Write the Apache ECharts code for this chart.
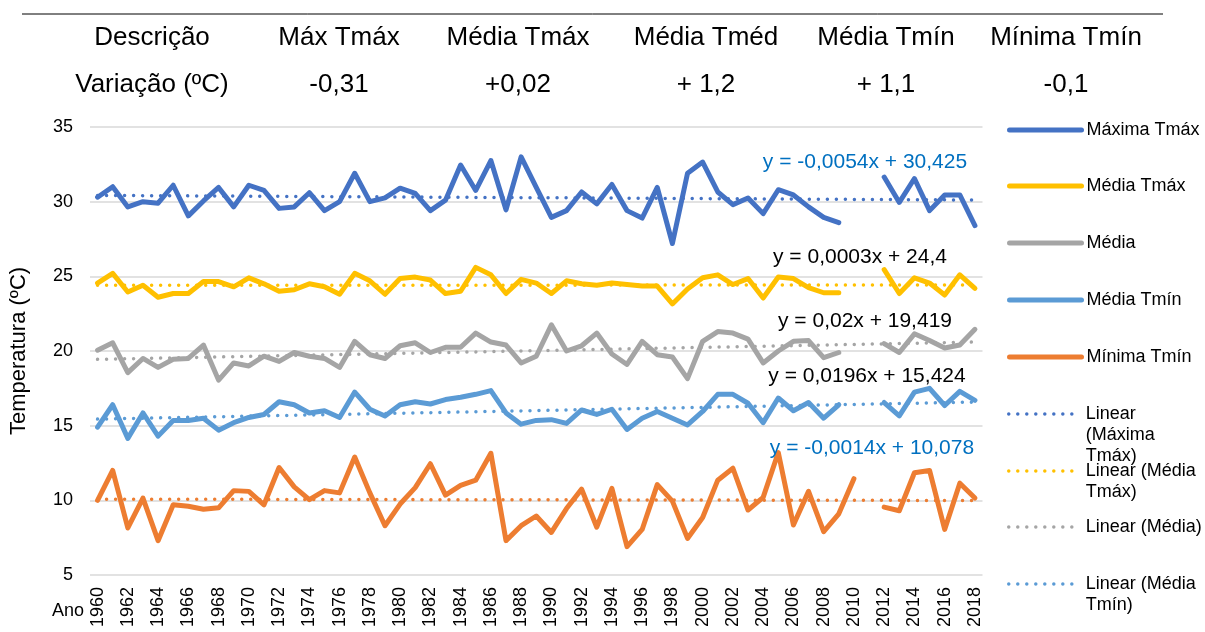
<!DOCTYPE html>
<html>
<head>
<meta charset="utf-8">
<script src="https://cdn.jsdelivr.net/npm/echarts@6/dist/echarts.min.js"></script>
<style>
html, body { margin: 0; padding: 0; background: #fff; }
#myChart { width: 1205px; height: 632px; }
</style>
</head>
<body>
<div id="myChart"></div>
<script>
// anos (eixo x)
const years = ['1960','1961','1962','1963','1964','1965','1966','1967','1968','1969',
  '1970','1971','1972','1973','1974','1975','1976','1977','1978','1979',
  '1980','1981','1982','1983','1984','1985','1986','1987','1988','1989',
  '1990','1991','1992','1993','1994','1995','1996','1997','1998','1999',
  '2000','2001','2002','2003','2004','2005','2006','2007','2008','2009',
  '2010','2011','2012','2013','2014','2015','2016','2017','2018']

const maxTmax = [30.3,31.0,29.65,30.0,29.9,31.1,29.05,30.05,30.95,29.65,
  31.1,30.75,29.55,29.65,30.6,29.4,30.0,31.9,30.0,30.25,
  30.9,30.55,29.4,30.1,32.45,30.75,32.75,29.45,33.0,30.95,
  28.95,29.4,30.65,29.85,31.15,29.4,28.9,30.95,27.2,31.9,
  32.65,30.65,29.8,30.25,29.2,30.8,30.45,29.65,28.95,28.6,
  null,null,31.65,29.95,31.55,29.4,30.45,30.45,28.4]

const mediaTmax = [24.55,25.2,23.95,24.4,23.6,23.85,23.85,24.65,24.65,24.3,
  24.9,24.5,24.0,24.1,24.5,24.3,23.8,25.2,24.7,23.8,
  24.85,24.95,24.75,23.85,24.0,25.6,25.1,23.85,24.8,24.55,
  23.85,24.7,24.5,24.4,24.55,24.45,24.35,24.35,23.15,24.15,
  24.9,25.1,24.45,24.85,23.55,24.95,24.85,24.25,23.9,23.9,
  null,null,25.45,23.85,24.9,24.55,23.75,25.1,24.2]

const media = [20.05,20.55,18.55,19.5,18.9,19.45,19.5,20.4,18.05,19.2,
  19.0,19.65,19.3,19.9,19.65,19.5,18.9,20.65,19.75,19.5,
  20.35,20.55,19.9,20.25,20.25,21.2,20.6,20.4,19.2,19.65,
  21.75,20.0,20.35,21.2,19.8,19.1,20.65,19.75,19.6,18.15,
  20.65,21.3,21.2,20.8,19.2,20.0,20.65,20.7,19.55,19.9,
  null,null,20.5,19.9,21.15,20.7,20.2,20.4,21.45]

const mediaTmin = [14.9,16.4,14.15,15.85,14.3,15.35,15.35,15.5,14.7,15.2,
  15.55,15.75,16.6,16.4,15.85,16.0,15.55,17.25,16.1,15.65,
  16.4,16.6,16.45,16.75,16.9,17.1,17.35,15.85,15.1,15.35,
  15.4,15.15,16.05,15.75,16.1,14.75,15.5,15.95,15.5,15.05,
  15.95,17.1,17.1,16.5,15.2,16.85,16.0,16.55,15.5,16.4,
  null,null,16.55,15.65,17.25,17.5,16.35,17.3,16.7]

const minTmin = [10.0,12.0,8.15,10.15,7.3,9.7,9.6,9.4,9.5,10.65,
  10.6,9.7,12.2,10.9,10.05,10.65,10.5,12.9,10.5,8.3,
  9.75,10.85,12.45,10.35,11.0,11.35,13.15,7.3,8.3,8.95,
  7.85,9.45,10.75,8.2,10.8,6.9,8.05,11.05,9.95,7.45,
  8.85,11.35,12.15,9.35,10.2,13.2,8.35,10.6,7.9,9.1,
  11.45,null,9.55,9.3,11.85,12.0,8.05,11.15,10.15]

// linhas de tendência: valor no primeiro e no último ano
const trendStart = [30.42, 24.40, 19.44, 15.44, 10.08]
const trendEnd = [30.11, 24.42, 20.60, 16.58, 9.99]
const trendEq = ['y = -0,0054x + 30,425', 'y = 0,0003x + 24,4', 'y = 0,02x + 19,419', 'y = 0,0196x + 15,424', 'y = -0,0014x + 10,078']

// tabela do topo
const headRow = ['Descrição', 'Máx Tmáx', 'Média Tmáx', 'Média Tméd', 'Média Tmín', 'Mínima Tmín']
const varRow = ['Variação (ºC)', '-0,31', '+0,02', '+ 1,2', '+ 1,1', '-0,1']

const names = ['Máxima Tmáx', 'Média Tmáx', 'Média', 'Média Tmín', 'Mínima Tmín']
const colors = ['#4472C4', '#FFC000', '#A5A5A5', '#5B9BD5', '#ED7D31']
const values = [maxTmax, mediaTmax, media, mediaTmin, minTmin]

const FONT = 'Liberation Sans, Arial, sans-serif'

let myChart = echarts.init(document.getElementById('myChart'))

let series = []
for (let i = 0; i < names.length; i++) {
  series.push({
    name: names[i],
    type: 'line',
    data: values[i],
    symbol: 'none',
    connectNulls: false,
    lineStyle: { color: colors[i], width: 5, cap: 'round', join: 'round' },
    itemStyle: { color: colors[i] },
    z: 2
  })
}
for (let i = 0; i < names.length; i++) {
  let d = years.map(() => null)
  d[0] = trendStart[i]
  d[d.length - 1] = trendEnd[i]
  series.push({
    name: 'Linear (' + names[i] + ')',
    type: 'line',
    data: d,
    symbol: 'none',
    connectNulls: true,
    lineStyle: { color: colors[i], width: 3.5, type: [0.01, 9], cap: 'round' },
    itemStyle: { color: colors[i] },
    z: 3
  })
}

// legenda: uma caixa por item, posicionada à mão
const legendRows = [
  { name: 'Máxima Tmáx', c: 130, label: 'Máxima Tmáx', dotted: false },
  { name: 'Média Tmáx', c: 186, label: 'Média Tmáx', dotted: false },
  { name: 'Média', c: 243, label: 'Média', dotted: false },
  { name: 'Média Tmín', c: 300, label: 'Média Tmín', dotted: false },
  { name: 'Mínima Tmín', c: 357, label: 'Mínima Tmín', dotted: false },
  { name: 'Linear (Máxima Tmáx)', c: 414, label: 'Linear\n(Máxima\nTmáx)', dotted: true },
  { name: 'Linear (Média Tmáx)', c: 471, label: 'Linear (Média\nTmáx)', dotted: true },
  { name: 'Linear (Média)', c: 527, label: 'Linear (Média)', dotted: true },
  { name: 'Linear (Média Tmín)', c: 584, label: 'Linear (Média\nTmín)', dotted: true }
]
const LH = 21
let legends = legendRows.map(r => {
  let n = r.label.split('\n').length
  let h = (2 * n - 1) * LH
  // linhas vazias antes do texto para alinhar a 1ª linha com o ícone
  let txt = '\n'.repeat(n - 1) + r.label
  return {
    left: 1007,
    top: r.c - h / 2,
    orient: 'vertical',
    padding: 0,
    itemWidth: 72,
    itemHeight: 14,
    data: [r.name],
    formatter: () => txt,
    itemStyle: { opacity: 0 },
    lineStyle: r.dotted ? { width: 3.5, cap: 'round' } : { width: 5, cap: 'round' },
    textStyle: { fontSize: 18, lineHeight: LH, color: '#000', fontFamily: FONT }
  }
})

let graphics = [
  { type: 'line', shape: { x1: 22, y1: 14, x2: 1163, y2: 14 }, style: { stroke: '#000', lineWidth: 1 } },
  { type: 'text', left: 52, top: 602, style: { text: 'Ano', fontSize: 18, fontFamily: FONT, fill: '#000' } }
]
const colX = [152, 339, 518, 706, 886, 1066]
for (let i = 0; i < headRow.length; i++) {
  graphics.push({ type: 'text', x: colX[i], y: 38, style: { text: headRow[i], fontSize: 26, fontFamily: FONT, fill: '#000', align: 'center', verticalAlign: 'middle' } })
  graphics.push({ type: 'text', x: colX[i], y: 85, style: { text: varRow[i], fontSize: 26, fontFamily: FONT, fill: '#000', align: 'center', verticalAlign: 'middle' } })
}
const eqPos = [[865, 162, '#0070C0'], [860, 257, '#000'], [865, 321, '#000'], [867, 376, '#000'], [872, 448, '#0070C0']]
for (let i = 0; i < trendEq.length; i++) {
  graphics.push({ type: 'text', x: eqPos[i][0], y: eqPos[i][1], z: 10,
    style: { text: trendEq[i], fontSize: 21, fontFamily: FONT, fill: eqPos[i][2], align: 'center', verticalAlign: 'middle' } })
}

myChart.setOption({
  animation: false,
  textStyle: { fontFamily: FONT },
  grid: { left: 89.5, right: 222.5, top: 127, bottom: 57 },
  legend: legends,
  xAxis: {
    type: 'category',
    data: years,
    boundaryGap: true,
    axisLine: { show: false },
    axisTick: { show: false },
    axisLabel: { interval: 1, rotate: 90, fontSize: 18, color: '#000', margin: 12 }
  },
  yAxis: {
    type: 'value',
    min: 5,
    max: 35,
    interval: 5,
    name: 'Temperatura (ºC)',
    nameLocation: 'middle',
    nameGap: 60,
    nameTextStyle: { fontSize: 22, color: '#000' },
    axisLabel: { fontSize: 18, color: '#000', margin: 17 },
    splitLine: { lineStyle: { color: '#D9D9D9', width: 1.5 } }
  },
  graphic: graphics,
  series: series
})
</script>
</body>
</html>
